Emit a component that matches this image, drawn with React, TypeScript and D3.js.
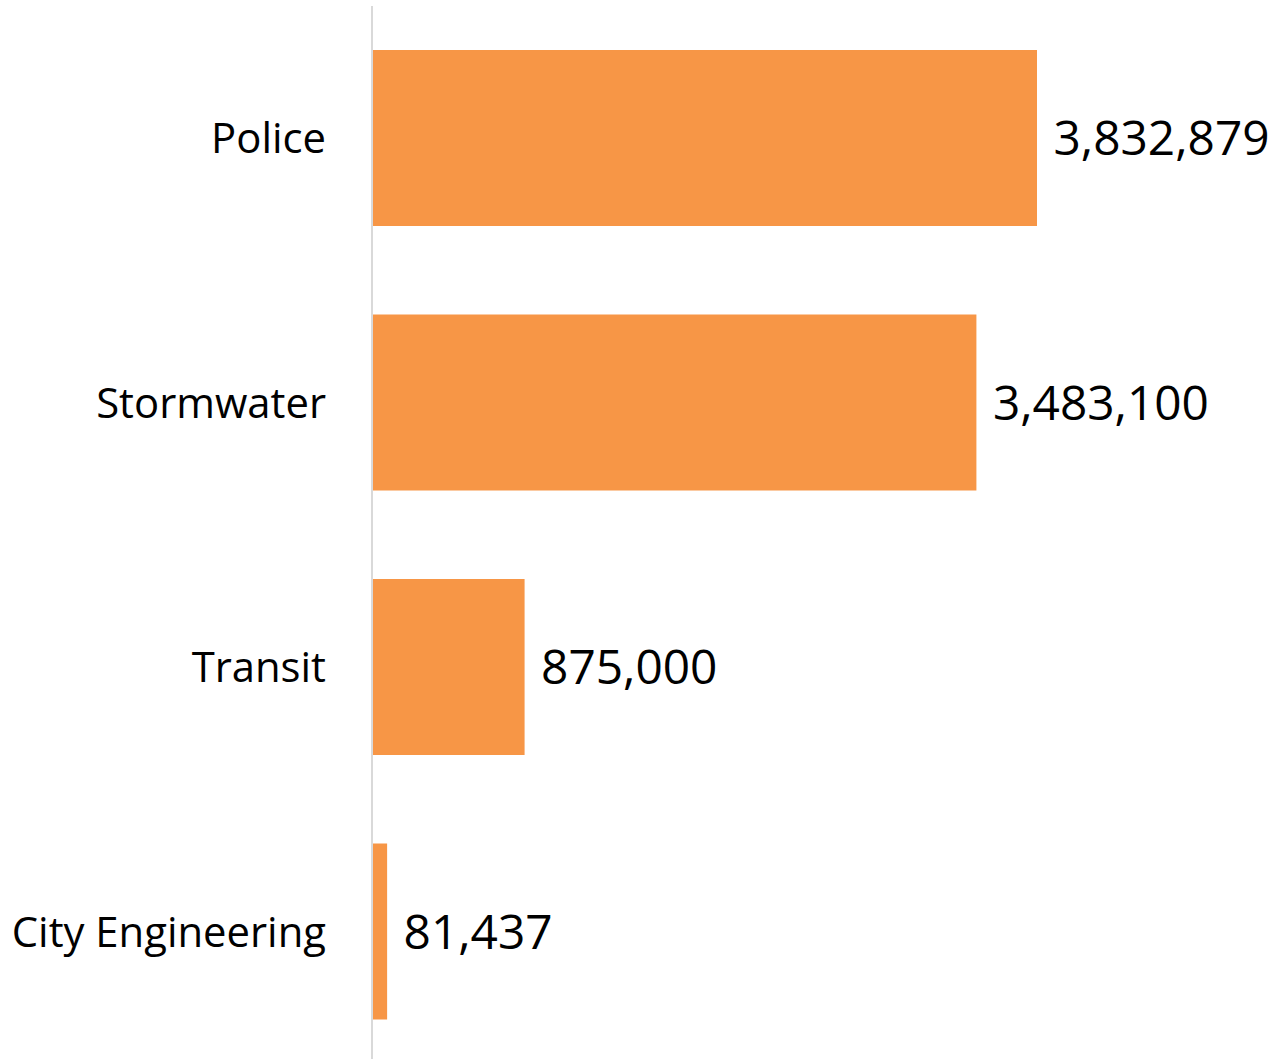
import React from "react";
import * as d3 from "d3";

const categories = ["Police", "Stormwater", "Transit", "City Engineering"];
const values = [3832879, 3483100, 875000, 81437];

const W = 1276;
const H = 1059;

export default function App() {
  const y = d3
    .scaleBand<string>()
    .domain(categories)
    .range([5.75, 1063.75])
    .paddingInner(0.3346)
    .paddingOuter(0.1673);
  const x = d3.scaleLinear().domain([0, 3832879]).range([373, 1037]);
  const fmt = d3.format(",");
  const font = "'Open Sans', 'Noto Sans', sans-serif";
  return (
    <svg
      width={W}
      height={H}
      style={{ position: "absolute", left: 0, top: 0, background: "#fff" }}
    >
      {categories.map((c, i) => {
        const yc = (y(c) as number) + y.bandwidth() / 2;
        return (
          <g key={c}>
            <rect
              x={x(0)}
              y={y(c)}
              width={x(values[i]) - x(0)}
              height={y.bandwidth()}
              fill="#F79646"
            />
            <text
              x={326}
              y={yc}
              dy="0.36em"
              textAnchor="end"
              fontFamily={font}
              fontSize={41.8}
              fill="#000"
            >
              {c}
            </text>
            <text
              x={x(values[i]) + 16.5}
              y={yc}
              dy="0.36em"
              textAnchor="start"
              fontFamily={font}
              fontSize={47.8}
              fill="#000"
            >
              {fmt(values[i])}
            </text>
          </g>
        );
      })}
      <line x1={372} x2={372} y1={6} y2={H} stroke="#d9d9d9" strokeWidth={2} />
    </svg>
  );
}
